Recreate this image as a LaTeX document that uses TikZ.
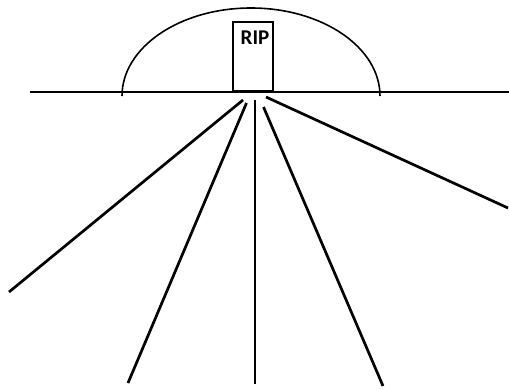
\documentclass[tikz,border=0pt]{standalone}
\usepackage{fontspec}
\setmainfont{Carlito}
\begin{document}
\begin{tikzpicture}[x=1pt,y=1pt,
  ground/.style={line width=2.8pt},
  ray/.style={line width=2.7pt},
  thin/.style={line width=1.6pt}]
\useasboundingbox (0,0) rectangle (509,389);
% ground line
\coordinate (gl) at (30,297);
\coordinate (gr) at (509,297);
\draw[ground] (gl) -- (gr);
% dome arc
\draw[thin] (122,293) arc[start angle=180,end angle=0,x radius=129,y radius=88];
% headstone
\node[draw,thin,minimum width=40pt,minimum height=69pt,inner sep=0pt,anchor=south west] (stone) at (232,297) {};
\node[font=\bfseries\fontsize{21}{21}\selectfont,anchor=center,inner sep=0pt] (rip) at (255,351.5) {RIP};
% rays
\coordinate (s1) at (243,289);
\coordinate (e1) at (9,97);
\coordinate (s2) at (246.5,286);
\coordinate (e2) at (128,6);
\coordinate (s3) at (255,289);
\coordinate (e3) at (255,5);
\coordinate (s4) at (263.5,282);
\coordinate (e4) at (383,3);
\coordinate (s5) at (266,292);
\coordinate (e5) at (508,181);
\draw[ray] (s1) -- (e1);
\draw[ray] (s2) -- (e2);
\draw[ray] (s3) -- (e3);
\draw[ray] (s4) -- (e4);
\draw[ray] (s5) -- (e5);
\end{tikzpicture}
\end{document}
